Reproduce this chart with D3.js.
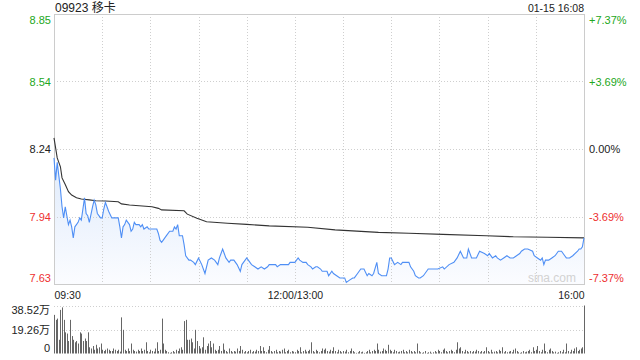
<!DOCTYPE html>
<html><head><meta charset="utf-8">
<script src="https://cdn.jsdelivr.net/npm/d3@7"></script>
<style>body{margin:0;background:#fff}svg{display:block}</style>
</head><body><svg id="c" width="640" height="360"></svg>
<script>
const stockName = "09923 移卡";
const stampLabel = "01-15 16:08";
const prevClose = 8.24;
const pctTicks = [7.37, 3.69, 0, -3.69, -7.37];
const priceTickLabels = ["8.85", "8.54", "8.24", "7.94", "7.63"];
const pctTickLabels = ["+7.37%", "+3.69%", "0.00%", "-3.69%", "-7.37%"];
const timeLabels = ["09:30", "12:00/13:00", "16:00"];
const timeLabelMinutes = [0, 150, 330];
const volTicks = [0, 19.26, 38.52];
const volTickLabels = ["0", "19.26万", "38.52万"];
const watermark = "sina.com";

const priceMinutes = [0,1,2,4,5,6,7,9,10,11,12,13,15,16,17,18,19,20,21,22,24,25,26,27,29,30,31,32,33,34,36,38,40,41,42,43,44,45,47,48,49,50,51,53,54,55,56,58,59,61,62,64,65,66,67,68,70,72,74,75,76,77,78,80,81,82,84,85,87,88,90,92,94,96,98,100,102,103,105,106,107,109,110,112,114,116,117,120,121,123,125,127,129,131,133,134,136,138,139,141,144,146,147,150,152,153,155,157,158,160,161,163,164,166,167,170,171,173,174,176,178,179,181,182,184,186,187,189,191,193,195,196,198,199,201,202,204,207,208,209,210,212,214,216,217,219,221,222,224,225,227,228,230,233,236,239,242,243,246,249,251,253,255,257,258,260,263,265,268,270,271,273,275,276,278,280,282,284,286,288,290,291,293,295,298,299,301,303,304,305,306,308,310,312,314,316,318,319,321,323,326,327,328,329,330];
const prices = [8.20,8.10,8.18,8.06,7.98,7.93,7.98,7.90,7.92,7.89,7.84,7.89,7.91,7.93,7.92,7.97,8.02,7.95,7.94,7.91,7.98,8.01,7.99,7.95,7.93,7.93,7.97,8.00,7.98,7.96,7.93,7.93,7.93,7.89,7.84,7.89,7.90,7.92,7.90,7.87,7.88,7.91,7.90,7.90,7.89,7.90,7.88,7.89,7.88,7.88,7.88,7.88,7.86,7.83,7.82,7.83,7.85,7.87,7.87,7.89,7.88,7.90,7.85,7.85,7.81,7.76,7.74,7.74,7.73,7.72,7.75,7.72,7.68,7.74,7.75,7.74,7.72,7.75,7.79,7.77,7.75,7.73,7.74,7.74,7.72,7.69,7.72,7.75,7.74,7.72,7.71,7.70,7.71,7.70,7.71,7.72,7.72,7.72,7.71,7.72,7.72,7.72,7.73,7.73,7.75,7.74,7.73,7.73,7.72,7.71,7.70,7.71,7.71,7.70,7.69,7.69,7.67,7.69,7.68,7.67,7.66,7.66,7.66,7.64,7.65,7.66,7.66,7.68,7.70,7.70,7.67,7.68,7.67,7.68,7.73,7.68,7.67,7.67,7.70,7.75,7.75,7.72,7.73,7.72,7.73,7.73,7.73,7.71,7.69,7.67,7.66,7.66,7.67,7.70,7.70,7.70,7.71,7.70,7.72,7.73,7.75,7.78,7.75,7.75,7.79,7.75,7.75,7.78,7.77,7.76,7.77,7.75,7.76,7.75,7.74,7.75,7.76,7.75,7.75,7.76,7.77,7.78,7.79,7.79,7.78,7.76,7.75,7.74,7.75,7.72,7.74,7.74,7.75,7.76,7.78,7.78,7.76,7.75,7.75,7.76,7.78,7.79,7.79,7.80,7.84];

const avgMinutes = [0,2,3,4,5,7,9,11,14,17,22,26,32,40,42,47,53,61,65,67,81,83,89,95,108,120,134,158,175,202,221,242,269,286,307,330];
const avgPrices = [8.29,8.20,8.18,8.16,8.11,8.08,8.048,8.033,8.021,8.015,8.011,8.007,8.006,8.003,7.993,7.988,7.985,7.980,7.973,7.966,7.962,7.947,7.928,7.913,7.906,7.901,7.894,7.888,7.876,7.865,7.861,7.856,7.850,7.845,7.843,7.840];

// volume per minute (万股), minute 0..330
const volumes = [
31,27,28,11,35,37,27,17,16,10,
27,14,11,9,10,8,17,16,10,12,
10,17,5,4,6,3,7,4,5,8,
3,2,3,4,3,2,2,4,3,2,
3,1.5,29,19,3,2,4,2,8,3,
2,1.5,3,2,4,2,3,9,2,1,
3,2,1.5,4,9,2,3,28,8,3,
2,1,0.5,1,2,1,3,2,4,5,
3,26,27,11,11,12,9,4,19,10,
6,4,5,13,3,6,8,10,5,8,
3,2,3,6,2,8,3,2,1,4,
2,1,2,1.5,4,2,6,3,1,2,
1,2,3,1,2,1.5,3,2,6,2,
5,2,1,3,6,2,1,2,3,1,
2,1.5,3,4,1,2,3,1,2,1.5,
1,3,2,5,1,2,3,1.5,2,3,
9,2,1,3,2,1,2,4,3,4,
2,1.5,3,2,5,2,1,3,2,1,
2,1.5,3,1,2,4,2,1,0.5,1,
2,1,1.5,0.5,1,2,3,1,2,3,
2,8,3,1.5,2,4,3,2,7,3,
2,1,3,2,1,1.5,2,3,1,2,
1,3,2,1,2,1,8,2,1,0.5,
1,2,0.5,1,1.5,0.5,1,2,1,3,
2,1,3,4,2,1,2,3,2,1,
3,9,4,5,2,1,3,2,1,2,
1,2,1.5,3,2,1,2,1,2,5,
2,1,3,1,1.5,2,1,3,2,5,
1,2,1,1.5,2,1,3,4,2,1,
0.5,1,2,1,1.5,2,3,1,5,2,
3,6,2,1,3,8,2,1,3,4,
2,1,1.5,0.5,1,2,1,3,1,8,
2,1,3,2,4,5,2,3,4,5,
38.52];

const FONT = '"Liberation Sans", Arial, "Noto Sans CJK SC", sans-serif';
const GREEN = "#22a722", RED = "#ee3030", DARK = "#222";
const colorFor = i => pctTicks[i] > 0 ? GREEN : (pctTicks[i] < 0 ? RED : DARK);

const L = 54, R = 584, T = 14, B = 284;
const svg = d3.select("#c");

const x = d3.scaleLinear().domain([0, 330]).range([L, R]);
const y = d3.scaleLinear()
  .domain([prevClose * (1 - 0.0737), prevClose * (1 + 0.0737)])
  .range([B, T]);
const vy = d3.scaleLinear().domain([0, 38.52]).range([353.5, 305.5]);

const tickPrices = pctTicks.map(p => prevClose * (1 + p / 100));

// gradient
const defs = svg.append("defs");
const grad = defs.append("linearGradient").attr("id", "g").attr("gradientUnits", "userSpaceOnUse")
  .attr("x1", 0).attr("x2", 0).attr("y1", 190).attr("y2", B);
grad.append("stop").attr("offset", 0).attr("stop-color", "#e6effc");
grad.append("stop").attr("offset", 1).attr("stop-color", "#fbfcff");

const pts = priceMinutes.map((m, i) => ({m, p: prices[i]}));
const avg = avgMinutes.map((m, i) => ({m, p: avgPrices[i]}));

svg.append("path").datum(pts)
  .attr("d", d3.area().x(d => x(d.m)).y0(B).y1(d => y(d.p)))
  .attr("fill", "url(#g)");

// grid
const grid = svg.append("g").attr("stroke", "#cfcfcf").attr("stroke-dasharray", "1,2").attr("shape-rendering", "crispEdges");
grid.selectAll("line.v").data(d3.range(30, 330, 30)).join("line")
  .attr("x1", d => Math.round(x(d)) + 0.5).attr("x2", d => Math.round(x(d)) + 0.5)
  .attr("y1", T).attr("y2", B);
grid.selectAll("line.h").data(tickPrices.slice(1, 4)).join("line")
  .attr("x1", L).attr("x2", R)
  .attr("y1", d => Math.round(y(d)) + 0.5).attr("y2", d => Math.round(y(d)) + 0.5);
grid.selectAll("line.vv").data(volTicks.slice(1)).join("line")
  .attr("x1", L).attr("x2", R)
  .attr("y1", d => Math.round(vy(d)) + 0.5).attr("y2", d => Math.round(vy(d)) + 0.5);

// frame
svg.append("rect").attr("x", L + 0.5).attr("y", T + 0.5).attr("width", R - L).attr("height", B - T)
  .attr("fill", "none").attr("stroke", "#cccccc");

// watermark
svg.append("text").attr("x", 552).attr("y", 282).attr("text-anchor", "middle")
  .attr("font-family", FONT).attr("font-size", 12).attr("fill", "#d2d2d2").text(watermark);

// lines
svg.append("path").datum(avg)
  .attr("d", d3.line().x(d => x(d.m)).y(d => y(d.p)))
  .attr("fill", "none").attr("stroke", "#333").attr("stroke-width", 1.1);
svg.append("path").datum(pts)
  .attr("d", d3.line().x(d => x(d.m)).y(d => y(d.p)))
  .attr("fill", "none").attr("stroke", "#4f8ff5").attr("stroke-width", 1.1);

// volume bars
svg.append("g").selectAll("line").data(volumes).join("line")
  .attr("x1", (d, i) => Math.round(x(i)) + 0.5).attr("x2", (d, i) => Math.round(x(i)) + 0.5)
  .attr("y1", vy(0)).attr("y2", d => vy(d))
  .attr("stroke", "#666").attr("stroke-width", 1);

// axes
function styleAxis(g, size) {
  g.attr("font-family", FONT).attr("font-size", size);
  g.select(".domain").remove();
  g.selectAll(".tick line").remove();
}
const leftAx = svg.append("g").attr("transform", `translate(${L - 3},0)`)
  .call(d3.axisLeft(y).tickValues(tickPrices).tickSize(0).tickPadding(0).tickFormat((d, i) => priceTickLabels[i]));
styleAxis(leftAx, 11);
leftAx.selectAll(".tick text").attr("fill", (d, i) => colorFor(i))
  .attr("dy", (d, i) => i === 0 ? "0.9em" : (i === 4 ? "-0.2em" : "0.35em"));

const rightAx = svg.append("g").attr("transform", `translate(${R + 5},0)`)
  .call(d3.axisRight(y).tickValues(tickPrices).tickSize(0).tickPadding(0).tickFormat((d, i) => pctTickLabels[i]));
styleAxis(rightAx, 11);
rightAx.selectAll(".tick text").attr("fill", (d, i) => colorFor(i))
  .attr("dy", (d, i) => i === 0 ? "0.9em" : (i === 4 ? "-0.2em" : "0.35em"));

const timeAx = svg.append("g").attr("transform", `translate(0,${B})`)
  .call(d3.axisBottom(x).tickValues(timeLabelMinutes).tickSize(0).tickPadding(8).tickFormat((d, i) => timeLabels[i]));
styleAxis(timeAx, 10.5);
timeAx.selectAll(".tick text").attr("fill", DARK)
  .attr("text-anchor", (d, i) => i === 0 ? "start" : (i === 2 ? "end" : "middle"));

const volAx = svg.append("g").attr("transform", `translate(${L - 4},0)`)
  .call(d3.axisLeft(vy).tickValues(volTicks).tickSize(0).tickPadding(0).tickFormat((d, i) => volTickLabels[i]));
styleAxis(volAx, 11);
volAx.selectAll(".tick text").attr("fill", DARK)
  .attr("dy", (d, i) => i === 0 ? "-0.15em" : (i === 2 ? "0.75em" : "0.35em"));

// header
svg.append("text").attr("x", L + 1).attr("y", 12).attr("font-family", FONT).attr("font-size", 12)
  .attr("fill", DARK).text(stockName);
svg.append("text").attr("x", R).attr("y", 12).attr("text-anchor", "end").attr("font-family", FONT)
  .attr("font-size", 10.5).attr("fill", DARK).text(stampLabel);
</script></body></html>
